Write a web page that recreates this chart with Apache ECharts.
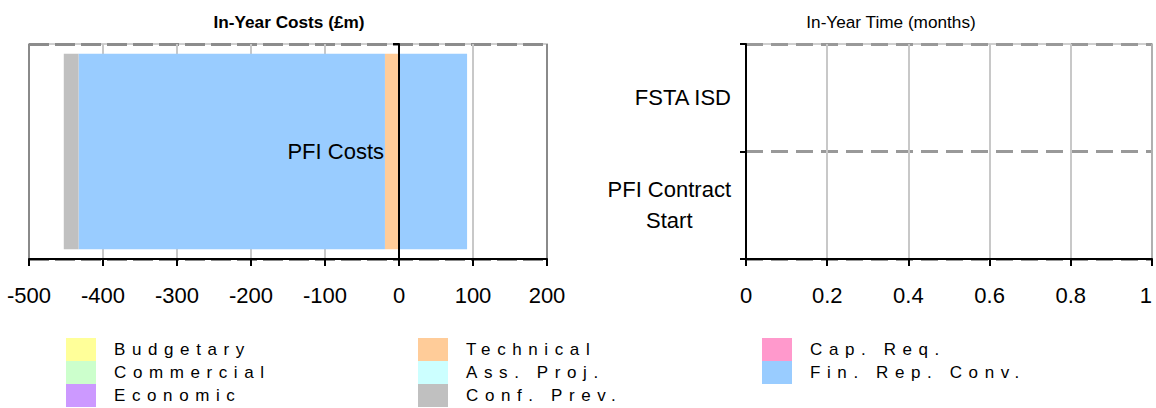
<!DOCTYPE html>
<html><head><meta charset="utf-8">
<script src="https://cdn.jsdelivr.net/npm/echarts@6/dist/echarts.min.js"></script>
<style>
html,body{margin:0;padding:0;background:#fff}
#c{width:1156px;height:408px}
#c text[style*="17px"]{letter-spacing:6.6px}
</style></head><body><div id="c"></div>
<script>
// ---- data ----
const costCategories = ['PFI Costs'];
const timeCategories = ['PFI Contract Start', 'FSTA ISD'];
const costTicks = { min: -500, max: 200, interval: 100 };
const timeTicks = { min: 0, max: 1, interval: 0.2 };

const budgetary = [0];
const commercial = [0];
const economic = [0];
const technical = [-19];
const assProj = [0];
const finRepConvNeg = [-414];
const confPrev = [-20];
const capReq = [0];
const finRepConvPos = [92];

const legendCol1 = ['Budgetary', 'Commercial', 'Economic'];
const legendCol2 = ['Technical', 'Ass. Proj.', 'Conf. Prev.'];
const legendCol3 = ['Cap. Req.', 'Fin. Rep. Conv.'];

// ---- styling ----
const FONT = "'Liberation Sans',Arial,sans-serif";
const colors = {
  'Budgetary': '#FFFF99', 'Commercial': '#CCFFCC', 'Economic': '#CC99FF',
  'Technical': '#FFCC99', 'Ass. Proj.': '#CCFFFF', 'Conf. Prev.': '#C0C0C0',
  'Cap. Req.': '#FF99CC', 'Fin. Rep. Conv.': '#99CCFF'
};
const seriesDefs = [
  ['Budgetary', budgetary], ['Commercial', commercial], ['Economic', economic],
  ['Technical', technical], ['Ass. Proj.', assProj], ['Fin. Rep. Conv.', finRepConvNeg],
  ['Conf. Prev.', confPrev], ['Cap. Req.', capReq], ['Fin. Rep. Conv.', finRepConvPos]
];

const G0 = { left: 29, top: 44, width: 518, height: 215 };
const G1 = { left: 746, top: 44, width: 406, height: 215 };

const axisLineStyle = { color: '#000', width: 2 };
const labelStyle = { fontSize: 22, fontFamily: FONT, color: '#000' };

function legend(data, left) {
  return {
    data: data, left: left, top: 338, orient: 'vertical', icon: 'rect', padding: 0,
    itemWidth: 30, itemHeight: 23, itemGap: 0, selectedMode: false,
    textStyle: { fontSize: 17, fontFamily: FONT, color: '#000', padding: [0, 0, 0, 13] }
  };
}
function grid(g) {
  return Object.assign({ show: true, borderColor: '#cfcfcf', borderWidth: 2,
    containLabel: false, outerBoundsMode: 'none' }, g);
}
function dashedHelperAxis(idx, data, dash, color) {
  return { type: 'category', gridIndex: idx, data: data, z: 1, position: 'left',
    axisLine: { show: false }, axisTick: { show: false }, axisLabel: { show: false },
    splitLine: { show: true, lineStyle: { type: dash, color: color, width: 3 } } };
}

const zeroOffset = -(-costTicks.min / (costTicks.max - costTicks.min)) * G0.width;

const option = {
  animation: false,
  backgroundColor: '#fff',
  title: [
    { text: 'In-Year Costs (£m)', left: 284, top: 8, textAlign: 'center',
      textStyle: { fontSize: 17.2, fontWeight: 'bold', fontFamily: FONT, color: '#000' } },
    { text: 'In-Year Time (months)', left: 886, top: 8, textAlign: 'center',
      textStyle: { fontSize: 17.2, fontWeight: 'normal', fontFamily: FONT, color: '#000' } }
  ],
  legend: [legend(legendCol1, 66), legend(legendCol2, 418), legend(legendCol3, 762)],
  grid: [grid(G0), grid(G1)],
  xAxis: [
    { type: 'value', gridIndex: 0, z: 1.5, min: costTicks.min, max: costTicks.max, interval: costTicks.interval,
      axisLine: { show: true, onZero: false, lineStyle: axisLineStyle },
      axisTick: { show: true, length: 7, lineStyle: axisLineStyle },
      axisLabel: Object.assign({ margin: 25 }, labelStyle),
      splitLine: { show: true, lineStyle: { width: 2,
        color: ['#8a8a8a', '#c8c8c8', '#c8c8c8', '#c8c8c8', '#c8c8c8', '#c8c8c8', '#c8c8c8', '#8a8a8a'] } } },
    { type: 'value', gridIndex: 1, z: 1.5, min: timeTicks.min, max: timeTicks.max, interval: timeTicks.interval,
      axisLine: { show: true, onZero: false, lineStyle: axisLineStyle },
      axisTick: { show: true, length: 7, lineStyle: axisLineStyle },
      axisLabel: Object.assign({ margin: 25, alignMaxLabel: 'right' }, labelStyle),
      splitLine: { show: true, lineStyle: { width: 2,
        color: ['#c8c8c8', '#c8c8c8', '#c8c8c8', '#c8c8c8', '#c8c8c8', '#b0b0b0'] } } }
  ],
  yAxis: [
    { type: 'category', gridIndex: 0, data: costCategories, z: 3, position: 'left', offset: zeroOffset,
      axisLine: { show: true, onZero: false, lineStyle: axisLineStyle },
      axisTick: { show: true, length: 6, lineStyle: axisLineStyle },
      axisLabel: Object.assign({ margin: 15 }, labelStyle),
      splitLine: { show: false } },
    { type: 'category', gridIndex: 1, data: timeCategories, z: 3, position: 'left',
      axisLine: { show: true, onZero: false, lineStyle: axisLineStyle },
      axisTick: { show: true, length: 6, lineStyle: axisLineStyle },
      axisLabel: Object.assign({ margin: 15,
        formatter: v => v.indexOf(' Start') > 0 ? '{c|' + v.replace(' Start', '}\n{c|Start}') : v,
        rich: { c: { align: 'center', fontSize: 22, fontFamily: FONT, color: '#000', lineHeight: 31 } }
      }, labelStyle),
      splitLine: { show: false } },
    dashedHelperAxis(0, costCategories, [20, 6], '#8c8c8c'),
    dashedHelperAxis(1, timeCategories, [17, 8], '#999')
  ],
  series: seriesDefs.map(([name, vals]) => ({
    name: name, type: 'bar', stack: 'cost', xAxisIndex: 0, yAxisIndex: 0, z: 2,
    barCategoryGap: '9%', data: vals, itemStyle: { color: colors[name] }
  }))
};

const chart = echarts.init(document.getElementById('c'), null, { renderer: 'svg' });
chart.setOption(option);
</script></body></html>
